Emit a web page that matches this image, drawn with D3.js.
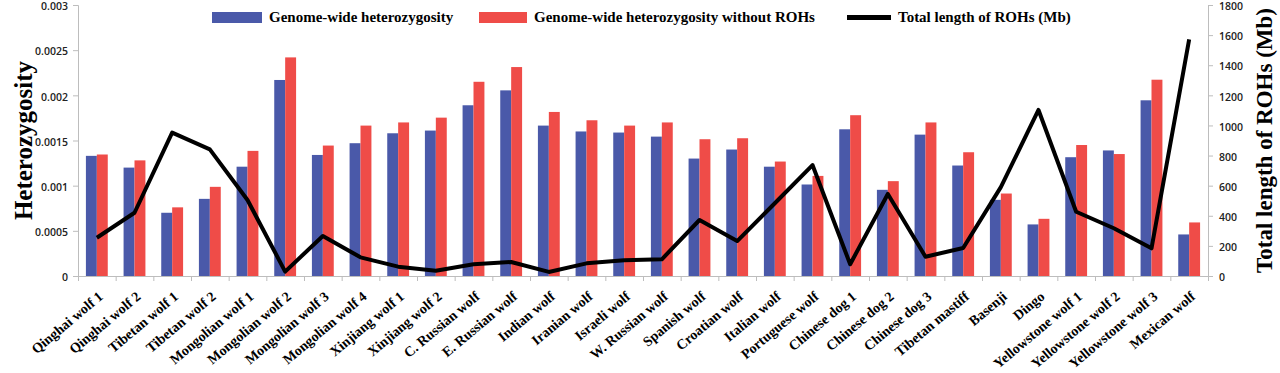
<!DOCTYPE html>
<html>
<head>
<meta charset="utf-8">
<script src="https://cdn.jsdelivr.net/npm/d3@7"></script>
<style>
  body { margin: 0; background: #fff; }
</style>
</head>
<body>
<div id="chart"></div>
<script>
const categories = ["Qinghai wolf 1", "Qinghai wolf 2", "Tibetan wolf 1", "Tibetan wolf 2", "Mongolian wolf 1",
  "Mongolian wolf 2", "Mongolian wolf 3", "Mongolian wolf 4", "Xinjiang wolf 1", "Xinjiang wolf 2",
  "C. Russian wolf", "E. Russian wolf", "Indian wolf", "Iranian wolf", "Israeli wolf",
  "W. Russian wolf", "Spanish wolf", "Croatian wolf", "Italian wolf", "Portuguese wolf",
  "Chinese dog 1", "Chinese dog 2", "Chinese dog 3", "Tibetan mastiff", "Basenji",
  "Dingo", "Yellowstone wolf 1", "Yellowstone wolf 2", "Yellowstone wolf 3", "Mexican wolf"]

const heterozygosity = [0.00133, 0.0012, 0.0007, 0.000854, 0.00121, 0.00217, 0.00134, 0.00147, 0.00158, 0.00161,
  0.00189, 0.002055, 0.001665, 0.0016, 0.001588, 0.001543, 0.0013, 0.0014, 0.00121, 0.001013,
  0.001624, 0.000954, 0.001565, 0.001223, 0.000843, 0.000571, 0.001315, 0.00139, 0.001945, 0.00046]

const heterozygosityNoROH = [0.001345, 0.00128, 0.00076, 0.000987, 0.001385, 0.00242, 0.001444, 0.001665, 0.0017, 0.001753,
  0.00215, 0.002313, 0.001816, 0.001724, 0.001665, 0.0017, 0.001514, 0.001525, 0.001267, 0.001108,
  0.00178, 0.00105, 0.0017, 0.00137, 0.000913, 0.000633, 0.00145, 0.00135, 0.002173, 0.000593]

const rohLength = [254, 420, 952, 841, 505, 29, 266, 124, 62, 35,
  78, 93, 27, 84, 104, 111, 372, 232, 483, 737,
  78, 545, 128, 186, 590, 1103, 427, 317, 184, 1572]

const leftTicks = [0, 0.0005, 0.001, 0.0015, 0.002, 0.0025, 0.003]
const leftTickLabels = ["0", "0.0005", "0.001", "0.0015", "0.002", "0.0025", "0.003"]
const rightTicks = [0, 200, 400, 600, 800, 1000, 1200, 1400, 1600, 1800]

const seriesNames = ["Genome-wide heterozygosity", "Genome-wide heterozygosity without ROHs", "Total length of ROHs (Mb)"]

const blue = "#4a59a9"
const red = "#ef4c48"
const axisGrey = "#bdbdbd"
const serif = "'Liberation Serif', 'Times New Roman', serif"
const sans = "'Open Sans', 'Liberation Sans', sans-serif"

const W = 1280, H = 373
const margin = {top: 5, right: 72, bottom: 97, left: 78}
const width = W - margin.left - margin.right
const height = H - margin.top - margin.bottom

const svg = d3.select("#chart")
  .append("svg")
  .attr("width", W)
  .attr("height", H)
  .style("font-family", serif)

const g = svg.append("g")
  .attr("transform", "translate(" + margin.left + "," + margin.top + ")")

// scales
const x = d3.scaleBand()
  .domain(categories)
  .range([0, width])
  .paddingInner(0.42)
  .paddingOuter(0.21)

const xSub = d3.scaleBand()
  .domain([0, 1])
  .range([0, x.bandwidth()])

const xEdge = d3.scaleLinear()
  .domain([0, categories.length])
  .range([0, width])

const y = d3.scaleLinear().domain([0, 0.003]).range([height, 0])
const y2 = d3.scaleLinear().domain([0, 1800]).range([height, 0])

// bars
const groups = g.append("g")
  .selectAll("g")
  .data(categories)
  .enter()
  .append("g")
  .attr("transform", d => "translate(" + x(d) + ",0)")

groups.append("rect")
  .attr("x", xSub(0))
  .attr("width", xSub.bandwidth())
  .attr("y", (d, i) => y(heterozygosity[i]))
  .attr("height", (d, i) => height - y(heterozygosity[i]))
  .attr("fill", blue)

groups.append("rect")
  .attr("x", xSub(1))
  .attr("width", xSub.bandwidth())
  .attr("y", (d, i) => y(heterozygosityNoROH[i]))
  .attr("height", (d, i) => height - y(heterozygosityNoROH[i]))
  .attr("fill", red)

// left axis
const leftAxis = g.append("g")
  .call(d3.axisLeft(y).tickValues(leftTicks).tickFormat((d, i) => leftTickLabels[i]).tickSize(5).tickPadding(5))
leftAxis.selectAll("path, line").attr("stroke", axisGrey)
leftAxis.selectAll("text")
  .attr("dy", "0.45em")
  .style("font-family", sans)
  .style("font-size", "10.5px")
  .style("font-weight", "600")
  .attr("fill", "#222")

// right axis
const rightAxis = g.append("g")
  .attr("transform", "translate(" + width + ",0)")
  .call(d3.axisRight(y2).tickValues(rightTicks).tickFormat(d3.format("d")).tickSize(5).tickPadding(6))
rightAxis.selectAll("path, line").attr("stroke", axisGrey)
rightAxis.selectAll("text")
  .attr("dy", "0.45em")
  .style("font-family", sans)
  .style("font-size", "10.5px")
  .style("font-weight", "600")
  .attr("fill", "#222")

// bottom axis: ticks between categories
const bottomTicks = g.append("g")
  .attr("transform", "translate(0," + height + ")")
  .call(d3.axisBottom(xEdge).ticks(categories.length).tickFormat("").tickSize(5))
bottomTicks.selectAll("path, line").attr("stroke", axisGrey)

// bottom labels
const bottomLabels = g.append("g")
  .attr("transform", "translate(0," + height + ")")
  .call(d3.axisBottom(x).tickSize(0).tickPadding(0))
bottomLabels.select(".domain").remove()
bottomLabels.selectAll("text")
  .attr("text-anchor", "end")
  .attr("transform", "translate(7,22) rotate(-40)")
  .attr("dy", 0)
  .attr("y", 0)
  .style("font-family", serif)
  .style("font-size", "14px")
  .style("font-weight", "bold")
  .attr("fill", "#000")

// line
g.append("path")
  .datum(rohLength)
  .attr("fill", "none")
  .attr("stroke", "#000")
  .attr("stroke-width", 4)
  .attr("stroke-linejoin", "round")
  .attr("d", d3.line()
    .x((d, i) => x(categories[i]) + x.bandwidth() / 2)
    .y(d => y2(d)))

// axis titles
svg.append("text")
  .attr("transform", "translate(32," + (margin.top + height / 2) + ") rotate(-90)")
  .attr("text-anchor", "middle")
  .style("font-size", "25px")
  .style("font-weight", "bold")
  .text("Heterozygosity")

svg.append("text")
  .attr("transform", "translate(1272," + (margin.top + height / 2) + ") rotate(-90)")
  .attr("text-anchor", "middle")
  .style("font-size", "23px")
  .style("font-weight", "bold")
  .text("Total length of ROHs (Mb)")

// legend
const legend = svg.append("g").attr("class", "legend")
const legendItems = [
  {x: 212, w: 50, type: "rect", color: blue},
  {x: 479, w: 48, type: "rect", color: red},
  {x: 847, w: 44, type: "line", color: "#000"}
]
legendItems.forEach((item, i) => {
  if (item.type === "rect") {
    legend.append("rect")
      .attr("x", item.x).attr("y", 12)
      .attr("width", item.w).attr("height", 11)
      .attr("fill", item.color)
  } else {
    legend.append("rect")
      .attr("x", item.x).attr("y", 15)
      .attr("width", item.w).attr("height", 5)
      .attr("fill", item.color)
  }
  legend.append("text")
    .attr("x", item.x + item.w + 7)
    .attr("y", 22)
    .style("font-size", "15px")
    .style("font-weight", "bold")
    .text(seriesNames[i])
})
</script>
</body>
</html>
